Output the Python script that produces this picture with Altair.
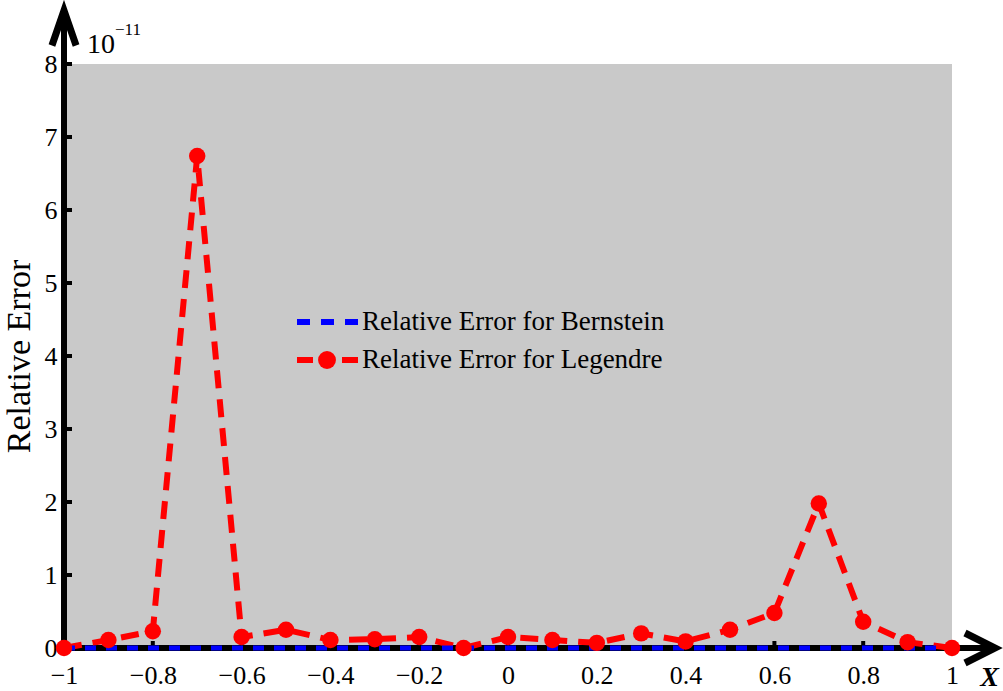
import altair as alt
import pandas as pd

# Sample nodes on [-1, 1] and the relative errors (in units of 1e-11)
x_nodes = [-1.0, -0.9, -0.8, -0.7, -0.6, -0.5, -0.4, -0.3, -0.2, -0.1, 0.0,
           0.1, 0.2, 0.3, 0.4, 0.5, 0.6, 0.7, 0.8, 0.9, 1.0]
legendre_err = [0.00, 0.11, 0.23, 6.74, 0.15, 0.25, 0.11, 0.12, 0.15, 0.00, 0.15,
                0.11, 0.07, 0.20, 0.09, 0.25, 0.48, 1.98, 0.36, 0.08, 0.00]
bernstein_err = [0.0, 0.0, 0.0, 0.0, 0.0, 0.0, 0.0, 0.0, 0.0, 0.0, 0.0,
                 0.0, 0.0, 0.0, 0.0, 0.0, 0.0, 0.0, 0.0, 0.0, 0.0]

x_ticks = [-1, -0.8, -0.6, -0.4, -0.2, 0, 0.2, 0.4, 0.6, 0.8, 1]
y_ticks = [0, 1, 2, 3, 4, 5, 6, 7, 8]
legend_labels = ["Relative Error for Bernstein", "Relative Error for Legendre"]
exponent_base = "10"
exponent_power = "\u221211"

W, H = 888, 584
SERIF = "Liberation Serif"
RED = "#ff0000"
BLUE = "#0000ff"

df = pd.DataFrame({"x": x_nodes, "legendre": legendre_err, "bernstein": bernstein_err})
xt = pd.DataFrame({"x": [v for v in x_ticks if -1 < v < 1]})
yt = pd.DataFrame({"y": [v for v in y_ticks if v > 0]})
one = pd.DataFrame({"k": [0]})

x_scale = alt.Scale(domain=[-1, 1], nice=False, zero=False)
y_scale = alt.Scale(domain=[0, 8], nice=False, zero=True)

x_enc = alt.X(
    "x:Q", scale=x_scale,
    axis=alt.Axis(values=x_ticks, format="~g", title="X", labelPadding=14,
                  labelFlush=False,
                  titleX=925, titleY=29, titleAlign="center", titleBaseline="middle",
                  titleFont=SERIF, titleFontStyle="italic", titleFontWeight="bold",
                  titleFontSize=28),
)

# Black axis lines with open arrowheads
y_axis_line = alt.Chart(one).mark_rule(color="black", strokeWidth=6).encode(
    x=alt.value(0), y=alt.value(H + 3), y2=alt.value(-52))
x_axis_line = alt.Chart(one).mark_rule(color="black", strokeWidth=6).encode(
    x=alt.value(-3), x2=alt.value(929), y=alt.value(H))
y_arrow = alt.Chart(one).mark_point(
    shape="M-0.69,1L0,-1L0.69,1", size=1225, filled=False, color="black",
    strokeWidth=7, strokeJoin="miter", opacity=1).encode(
    x=alt.value(0), y=alt.value(-36))
x_arrow = alt.Chart(one).mark_point(
    shape="M-1,-1L1,0L-1,1", size=900, filled=False, color="black",
    strokeWidth=7, strokeJoin="miter", opacity=1).encode(
    x=alt.value(916), y=alt.value(H))

# Inward tick marks
y_tick_marks = alt.Chart(yt).mark_rule(color="black", strokeWidth=4).encode(
    y=alt.Y("y:Q", scale=y_scale), x=alt.value(0), x2=alt.value(8))
x_tick_marks = alt.Chart(xt).mark_rule(color="black", strokeWidth=4).encode(
    x=alt.X("x:Q", scale=x_scale), y=alt.value(H), y2=alt.value(H - 7))

# Error curves
bern_line = alt.Chart(df).mark_line(color=BLUE, strokeWidth=5, strokeDash=[11, 10]).encode(
    x=alt.X("x:Q", scale=x_scale), y=alt.Y("bernstein:Q", scale=y_scale))
leg_line = alt.Chart(df).mark_line(color=RED, strokeWidth=6, strokeDash=[18, 11]).encode(
    x=x_enc,
    y=alt.Y("legendre:Q", scale=y_scale,
            axis=alt.Axis(values=y_ticks, format="~g", title="Relative Error",
                          labelPadding=7, labelFlush=False,
                          titleAngle=270, titleX=-45, titleY=H / 2,
                          titleAlign="center", titleBaseline="middle",
                          titleFont=SERIF, titleFontWeight="normal", titleFontSize=34)))
leg_pts = alt.Chart(df).mark_point(filled=True, color=RED, size=270, opacity=1).encode(
    x=alt.X("x:Q", scale=x_scale), y=alt.Y("legendre:Q", scale=y_scale))

# Legend drawn inside the plot
lg1_line = alt.Chart(one).mark_rule(color=BLUE, strokeWidth=6, strokeDash=[13, 11]).encode(
    x=alt.value(233), x2=alt.value(294), y=alt.value(258))
lg2_line = alt.Chart(one).mark_rule(color=RED, strokeWidth=6, strokeDash=[16, 29, 16]).encode(
    x=alt.value(233), x2=alt.value(294), y=alt.value(296))
lg2_pt = alt.Chart(one).mark_point(filled=True, color=RED, size=320, opacity=1).encode(
    x=alt.value(263), y=alt.value(296))
lg1_text = alt.Chart(one).mark_text(
    text=legend_labels[0], font=SERIF, fontSize=27, align="left", baseline="middle",
    color="black").encode(x=alt.value(298), y=alt.value(258))
lg2_text = alt.Chart(one).mark_text(
    text=legend_labels[1], font=SERIF, fontSize=27, align="left", baseline="middle",
    color="black").encode(x=alt.value(298), y=alt.value(296))

# Axis multiplier
exp_base = alt.Chart(one).mark_text(
    text=exponent_base, font=SERIF, fontSize=28, align="left", baseline="alphabetic",
    color="black").encode(x=alt.value(23), y=alt.value(-11))
exp_power = alt.Chart(one).mark_text(
    text=exponent_power, font=SERIF, fontSize=17, align="left", baseline="alphabetic",
    color="black").encode(x=alt.value(51), y=alt.value(-29))

chart = alt.layer(
    y_axis_line, x_axis_line, y_arrow, x_arrow, y_tick_marks, x_tick_marks,
    leg_line, bern_line, leg_pts,
    lg1_line, lg2_line, lg2_pt, lg1_text, lg2_text, exp_base, exp_power,
).properties(
    width=W, height=H,
    autosize=alt.AutoSizeParams(type="none"),
    padding={"left": 64, "top": 64, "right": 51, "bottom": 43},
    background="white",
).configure_view(
    fill="#c9c9c9", stroke=None,
).configure_axis(
    domain=False, ticks=False, grid=False,
    labelFont=SERIF, labelFontSize=26, labelColor="black", titleColor="black",
)

chart.save("out.html", embed_options={"renderer": "svg", "actions": False})
